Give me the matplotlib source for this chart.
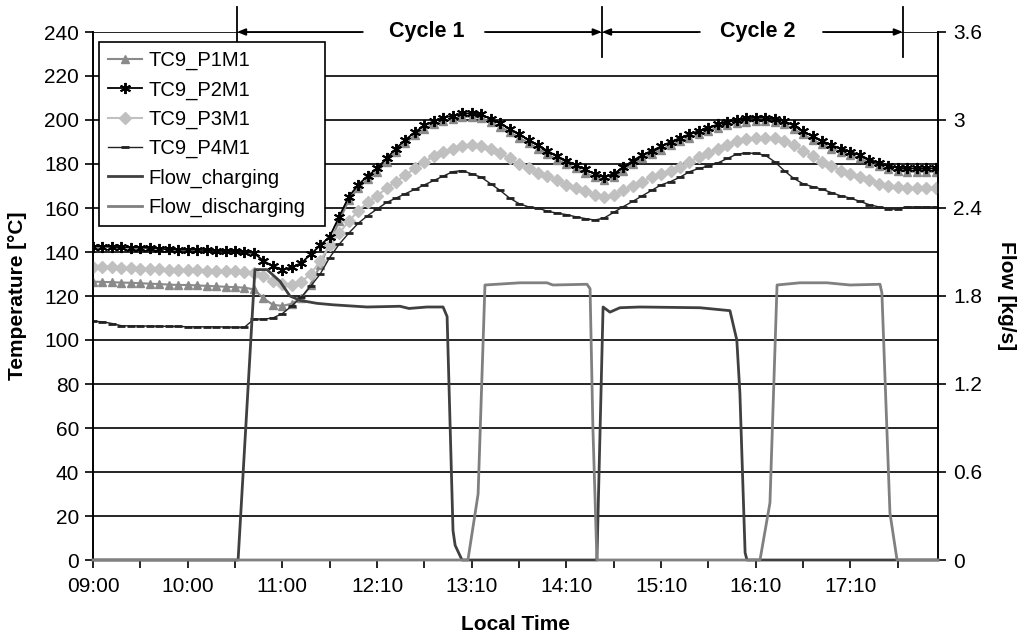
import numpy as np
import matplotlib
matplotlib.use("Agg")
import matplotlib.pyplot as plt

plt.rcParams['font.family'] = ['Liberation Sans', 'DejaVu Sans']

# ---------------- data ----------------
x_labels = ['09:00', '10:00', '11:00', '12:10', '13:10', '14:10', '15:10', '16:10', '17:10']
label_pos = [0, 40, 80, 120, 160, 200, 240, 280, 320]
tick_pos = list(range(0, 357, 20))
x_max = 357
sample_step = 4

tc9_p1m1 = [126.5, 126.4, 126.3, 126.1, 126, 125.8, 125.6, 125.4, 125.2, 125, 125, 124.8, 124.6, 124.4, 124.2, 124, 123.8, 123,
            119, 116, 115.5, 116.5, 119, 125, 134, 144, 154,
            163.5, 169, 173, 176.5, 181, 185.5, 189.5, 193, 196, 198, 199.5, 200.5, 201.5, 201.5, 201, 199, 197, 194.5, 192,
            189.5, 187, 184.5, 182, 180, 178, 176, 174, 172.5, 174, 177, 180, 182.5, 184.5, 186.5, 188.5, 190.3, 192, 193.5,
            195, 196.5, 197.5, 198.5, 199.3, 199.5, 199.5, 199, 198, 196, 193.5, 191, 189, 187, 185.5, 184, 182.5, 180.5, 179,
            177.5, 177, 176.5, 176.5, 176.5, 176.5]

tc9_p2m1 = [142.4, 142.5, 142.3, 142.2, 142, 142, 141.8, 141.5, 141.2, 141, 141, 141, 140.8, 140.6, 140.5, 140.5, 140, 139.5,
            136, 133.5, 132, 133, 135, 139, 143, 147, 156,
            165, 170.5, 174.5, 178, 182.5, 187, 191, 194.5, 197.5, 199.5, 201, 202, 203, 203, 202.5, 200.5, 198.5, 196, 193.5,
            191, 188.5, 186, 183.5, 181.5, 179.5, 177.5, 175.5, 174, 175.5, 178.5, 181.5, 184, 186, 188, 190, 191.8, 193.5, 195,
            196.5, 198, 199, 200, 200.8, 201, 201, 200.5, 199.5, 197.5, 195, 192.5, 190.5, 188.5, 187, 185.5, 184, 182, 180.5,
            179, 178.3, 178, 178, 178, 178]

tc9_p3m1 = [133, 133, 133, 132.8, 132.6, 132.5, 132.4, 132.2, 132, 132, 131.8, 131.6, 131.5, 131.4, 131.3, 131.2, 131, 130.5,
            129, 127, 125.5, 125, 126.5, 130, 136, 143, 148.5,
            154, 158.5, 162.5, 165.5, 169, 172, 175, 178, 181, 183.5, 185.5, 187, 188.3, 188.6, 188.3, 187, 185, 182.5, 180,
            178, 176, 174.5, 172.5, 170.5, 169, 167.5, 166, 165.2, 166, 168, 170, 172, 174, 175.5, 176.8, 178.5, 181, 183, 185,
            187, 188.8, 190.3, 191.2, 191.8, 191.8, 191.8, 190.5, 188.5, 186, 183.5, 181, 179, 177, 175.5, 174, 172.5, 171, 170,
            169.5, 169, 169, 169, 169]

tc9_p4m1 = [108.5, 108.3, 107.5, 106.5, 106.4, 106.4, 106.3, 106.3, 106.2, 106.2, 106, 106, 106, 106, 105.9, 105.8, 105.8, 109.5,
            109.5, 110, 112, 115.5, 119.5, 124.5, 130, 137.5, 143.5,
            148.5, 153, 156.5, 159.5, 162.5, 164.5, 166.5, 168.5, 170.5, 172.5, 174.5, 176.5, 177, 175.5, 174, 171, 168, 164.5,
            162, 160.5, 160, 158.5, 157.7, 157, 156, 155.2, 154.5, 155.5, 158, 160.6, 163, 165.5, 168, 170.5, 172, 174, 176.5,
            178, 179, 180.5, 182.5, 184.5, 185, 184.8, 184, 181, 177, 173.5, 171, 169.7, 168.5, 167, 165.5, 164.5, 163, 161.5,
            160.5, 159.5, 159.5, 160.5, 160.5, 160.5, 160.5]

charging_x = [0, 61.3, 68.4, 73.5, 79, 83.2, 87.5, 94.6, 101.4, 115.8, 129.7, 133.5, 141.1, 147.9, 149.6, 152.1, 153, 155.9,
              212.9, 215.5, 218.4, 222.6, 231.1, 256.4, 269.1, 272, 273.3, 275.5, 276.3, 357]
charging_v = [0, 0, 1.98, 1.98, 1.90, 1.80, 1.77, 1.75, 1.74, 1.725, 1.73, 1.715, 1.725, 1.725, 1.66, 0.20, 0.10, 0,
              0, 1.725, 1.69, 1.72, 1.725, 1.72, 1.70, 1.50, 1.14, 0.05, 0, 0]

discharging_x = [0, 158.4, 162.7, 165.6, 180.4, 191.8, 194.3, 208.7, 210, 211.2, 212.9,
                 281.8, 286, 289, 298.7, 310.1, 319.8, 332.5, 333.3, 336.7, 339.7, 357]
discharging_v = [0, 0, 0.45, 1.875, 1.89, 1.89, 1.875, 1.88, 1.85, 0.90, 0,
                 0, 0.39, 1.875, 1.89, 1.89, 1.875, 1.88, 1.82, 0.32, 0, 0]

cycle_bounds = [60.8, 215, 342.2]
cycle_names = ['Cycle 1', 'Cycle 2']
cycle_text_x = [141.1, 280.7]
cycle_gap = [(114, 165.6), (256.4, 308.4)]

temp_ticks = list(range(0, 241, 20))
flow_ticks = [0, 0.6, 1.2, 1.8, 2.4, 3.0, 3.6]
flow_tick_labels = ['0', '0.6', '1.2', '1.8', '2.4', '3', '3.6']

# ---------------- figure ----------------
fig = plt.figure(figsize=(10.25, 6.37), dpi=100)
ax = fig.add_axes([93 / 1025, 1 - 560 / 637, (938 - 93) / 1025, (560 - 32) / 637])
ax2 = ax.twinx()

t_x = np.arange(len(tc9_p2m1)) * sample_step

h1, = ax.plot(t_x, tc9_p1m1, color='#8a8a8a', lw=1.5, marker='^', ms=6, mec='#8a8a8a', mfc='#8a8a8a',
              label='TC9_P1M1', zorder=3)
h2, = ax.plot(t_x, tc9_p2m1, color='black', lw=1.3, marker=(6, 2, 0), ms=8, mew=1.4, mec='black',
              label='TC9_P2M1', zorder=4)
h3, = ax.plot(t_x, tc9_p3m1, color='#c0c0c0', lw=1.5, marker='D', ms=6.5, mec='#c0c0c0', mfc='#c0c0c0',
              label='TC9_P3M1', zorder=3)
h4, = ax.plot(t_x, tc9_p4m1, color='#222222', lw=1.0, marker='_', ms=6, mew=2, mec='#222222',
              label='TC9_P4M1', zorder=3)

h5, = ax2.plot(charging_x, charging_v, color='#404040', lw=2.0, label='Flow_charging', clip_on=False, zorder=3)
h6, = ax2.plot(discharging_x, discharging_v, color='#808080', lw=2.0, label='Flow_discharging', clip_on=False, zorder=3)

ax.set_xlim(0, x_max)
ax.set_ylim(0, 240)
ax2.set_ylim(0, 3.6)

# grid
ax.set_yticks(temp_ticks)
ax.yaxis.grid(True, color='black', lw=1.2)
ax.set_axisbelow(True)

# x ticks: marks every 20 samples, labels every 40
label_map = dict(zip(label_pos, x_labels))
ax.set_xticks(tick_pos)
ax.set_xticklabels([label_map.get(p, '') for p in tick_pos])
ax.tick_params(axis='x', direction='out', length=6, width=1.2, color='black', labelsize=15, pad=6)
ax.tick_params(axis='y', direction='out', length=6, width=1.2, labelsize=15, pad=4)

ax2.set_yticks(flow_ticks)
ax2.set_yticklabels(flow_tick_labels)
ax2.tick_params(axis='y', direction='out', length=6, width=1.2, labelsize=15, pad=5)

for a in (ax, ax2):
    for s in ('left', 'right', 'bottom'):
        a.spines[s].set_color('black')
        a.spines[s].set_linewidth(1.2)
    a.spines['top'].set_visible(False)

ax.set_ylabel('Temperature [°C]', fontsize=15, fontweight='bold', labelpad=12)
ax2.set_ylabel('Flow [kg/s]', fontsize=15, fontweight='bold', rotation=270, labelpad=24)
ax.set_xlabel('Local Time', fontsize=15, fontweight='bold', labelpad=14)

# cycle annotations
trans = ax.get_xaxis_transform()
for xb in cycle_bounds:
    ax.plot([xb, xb], [0.953, 1.047], transform=trans, color='black', lw=1.3, clip_on=False, zorder=2)
arrow_kw = dict(arrowstyle='-|>,head_length=0.5,head_width=0.2', color='black', lw=1.3, shrinkA=0, shrinkB=0)
for i, name in enumerate(cycle_names):
    left, right = cycle_bounds[i], cycle_bounds[i + 1]
    gl, gr = cycle_gap[i]
    ax.annotate('', xy=(left, 1.0), xytext=(gl, 1.0), xycoords=trans, textcoords=trans, arrowprops=arrow_kw, zorder=2)
    ax.annotate('', xy=(right, 1.0), xytext=(gr, 1.0), xycoords=trans, textcoords=trans, arrowprops=arrow_kw, zorder=2)
    ax.text(cycle_text_x[i], 1.0, name, transform=trans, ha='center', va='center', fontsize=15.5, fontweight='bold',
            bbox=dict(facecolor='white', edgecolor='none', pad=3), clip_on=False, zorder=5)
for gl, gr in cycle_gap:
    ax.plot([gl, gr], [1.0, 1.0], transform=trans, color='white', lw=3, clip_on=False, zorder=1.5)

leg = ax2.legend(handles=[h1, h2, h3, h4, h5, h6], loc='upper left',
                 bbox_to_anchor=(0.0071, 0.5, 0.2675, 0.481), mode='expand',
                 borderaxespad=0, fontsize=14.5, frameon=True, fancybox=False, framealpha=1, edgecolor='black',
                 handlelength=1.7, handletextpad=0.3, labelspacing=0.5, borderpad=0.45)
leg.get_frame().set_linewidth(1.2)
leg.set_zorder(10)

fig.savefig('out.png', dpi=100)
